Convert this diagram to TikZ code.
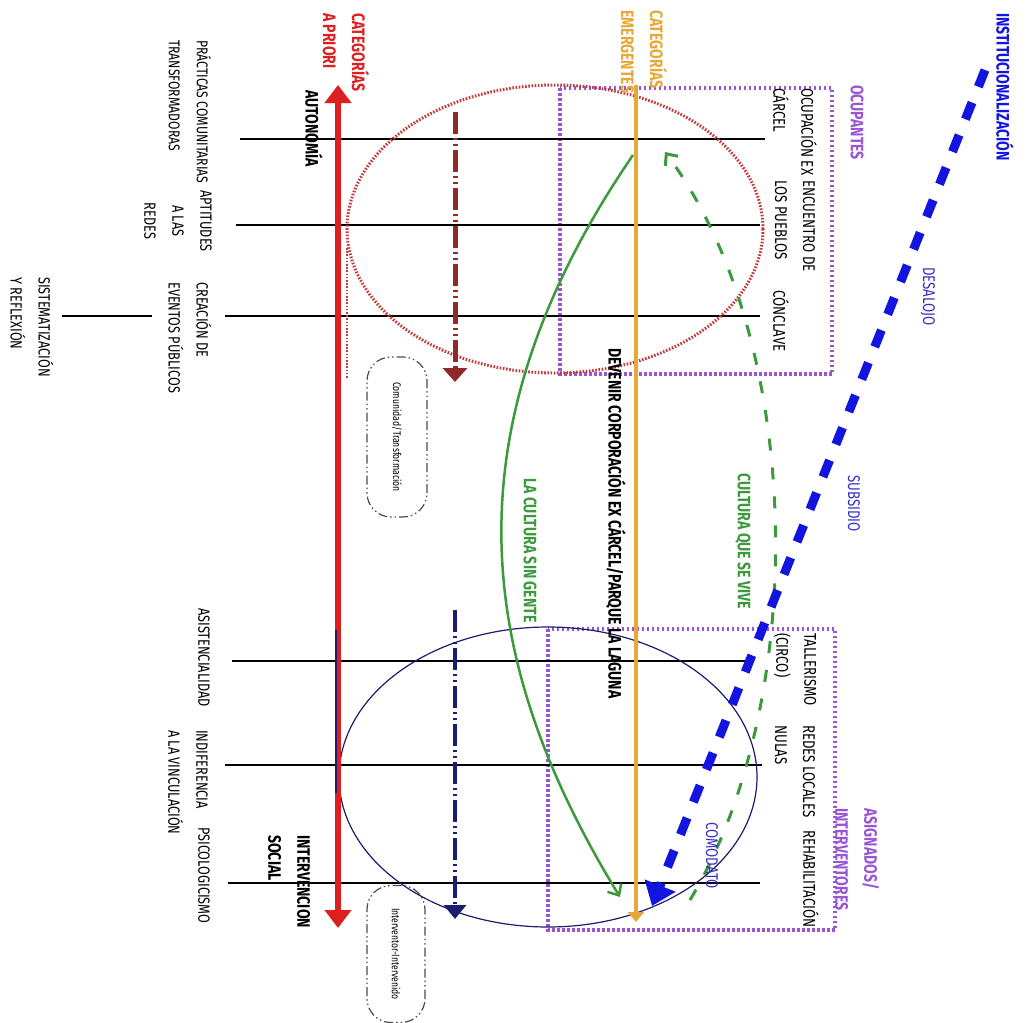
\documentclass[tikz,border=0pt]{standalone}
\usepackage{fontspec}
\setmainfont{Fira Sans}[FakeStretch=0.78]
\usetikzlibrary{arrows.meta}
\definecolor{cred}{HTML}{DD1F1F}
\definecolor{corange}{HTML}{E8A838}
\definecolor{cpurple}{HTML}{9A55D6}
\definecolor{cmaroon}{HTML}{8E2A2A}
\definecolor{cnavy}{HTML}{1C1C70}
\definecolor{cgreen}{HTML}{3C9A3C}
\definecolor{cblue}{HTML}{1414E0}
\definecolor{cdotred}{HTML}{C43A3A}
\definecolor{ctxtblue}{HTML}{3A30C0}
\begin{document}
\begin{tikzpicture}[x=1pt,y=-1pt,
  lbl/.style={rotate=-90, anchor=west, align=left, inner sep=0pt, font=\fontsize{17}{28}\selectfont},
  lbls/.style={lbl, font=\fontsize{16.3}{28}\selectfont},
  lblc/.style={lbls, align=center},
  blbl/.style={lbl, font=\bfseries\fontsize{18}{29}\selectfont},
  rowline/.style={black, line width=1.3pt},
  axisred/.style={cred, line width=6pt, {Triangle[width=26pt,length=18pt]}-{Triangle[width=26pt,length=18pt]}},
  axisorange/.style={corange, line width=4pt, -{Triangle[width=16pt,length=10pt]}},
  purplebox/.style={cpurple, line width=3.5pt, dash pattern=on 2.5pt off 2.5pt},
  reddots/.style={cdotred, line width=3pt, dash pattern=on 1.6pt off 1.6pt},
  navyring/.style={cnavy, line width=1.2pt},
  maroonarrow/.style={cmaroon, line width=5pt, dash pattern=on 22pt off 4pt on 2pt off 4pt on 2pt off 4pt, -{Triangle[width=24pt,length=14pt]}},
  navyarrow/.style={cnavy, line width=4pt, dash pattern=on 22pt off 4pt on 2pt off 4pt on 2pt off 4pt, -{Triangle[width=22pt,length=14pt]}},
  greensolid/.style={cgreen, line width=2.5pt, -{Straight Barb[width=16pt,length=9pt]}},
  greendash/.style={cgreen, line width=3pt, dash pattern=on 12pt off 17pt, -{Straight Barb[width=16pt,length=9pt]}},
  bluedash/.style={cblue, line width=9pt, dash pattern=on 18pt off 17pt, -{Triangle[width=32pt,length=22pt]}},
  smallbox/.style={draw=black!70, line width=1.2pt, rounded corners=24pt, rotate=-90,
     dash pattern=on 9pt off 3pt on 1.5pt off 3pt on 1.5pt off 3pt, inner sep=0pt,
     font=\fontsize{11}{13}\selectfont}
]
\path[fill=white] (0,0) rectangle (1029,1023);
\useasboundingbox (0,0) rectangle (1029,1023);

% purple boxes
\draw[purplebox] (560,88) rectangle (832,374);
\draw[purplebox] (548,629) rectangle (835,930);

% row lines
\coordinate (a1) at (240,139); \coordinate (b1) at (765,139);
\coordinate (a2) at (236,225); \coordinate (b2) at (760,225);
\coordinate (a3) at (225,316); \coordinate (b3) at (760,316);
\coordinate (a4) at (232,661); \coordinate (b4) at (750,661);
\coordinate (a5) at (225,765); \coordinate (b5) at (762,765);
\coordinate (a6) at (228,883); \coordinate (b6) at (760,883);
\coordinate (s1) at (62,316); \coordinate (s2) at (152,316);
\draw[rowline] (a1) -- (b1);
\draw[rowline] (a2) -- (b2);
\draw[rowline] (a3) -- (b3);
\draw[rowline] (a4) -- (b4);
\draw[rowline] (a5) -- (b5);
\draw[rowline] (a6) -- (b6);
\draw[rowline] (s1) -- (s2);

% ellipses
\draw[reddots] (555,229) ellipse [x radius=208, y radius=144];
\draw[navyring] (548,777) ellipse [x radius=209, y radius=150];

% main axes
\coordinate (rtop) at (338,85); \coordinate (rbot) at (338,928);
\draw[axisred] (rtop) -- (rbot);
\coordinate (ntop) at (336,630); \coordinate (nbot) at (336,793);
\draw[cnavy, line width=2pt] (ntop) -- (nbot);
\coordinate (dtop) at (347,248); \coordinate (dbot) at (347,378);
\draw[reddots, line width=2.5pt] (dtop) -- (dbot);
\coordinate (otop) at (636,85); \coordinate (obot) at (636,922);
\draw[axisorange] (otop) -- (obot);

% dash-dot arrows
\coordinate (mtop) at (455,112); \coordinate (mbot) at (455,382);
\draw[maroonarrow] (mtop) -- (mbot);
\coordinate (vtop) at (455,610); \coordinate (vbot) at (455,919);
\draw[navyarrow] (vtop) -- (vbot);

% green arrows
\coordinate (g1s) at (633,155); \coordinate (g1e) at (620,897);
\draw[greensolid] (g1s) .. controls (445,430) and (475,660) .. (g1e);
\coordinate (g2s) at (690,900); \coordinate (g2e) at (665,152);
\draw[greendash] (g2s) .. controls (810,700) and (805,340) .. (g2e);

% blue institutionalisation arrow
\coordinate (bs) at (985,70); \coordinate (be) at (652,906);
\draw[bluedash] (bs) -- (be);

% small rounded boxes
\node[smallbox, minimum width=160pt, minimum height=60pt] (cb1) at (397,437) {Comunidad/Transformación};
\node[smallbox, minimum width=137pt, minimum height=58pt] (cb2) at (396,954) {Interventor-Intervenido};

% header labels
\node[blbl, text=cred] (capr) at (346,13) {CATEGORÍAS\\A PRIORI};
\node[blbl, text=corange] (cemg) at (644,10) {CATEGORÍAS\\EMERGENTES};
\node[blbl] (auto) at (314,90) {AUTONOMÍA};
\node[blbl] (inter) at (289,835) {INTERVENCION\\SOCIAL};
\node[blbl, text=cblue] (inst) at (1005,13) {INSTITUCIONALIZACIÓN};
\node[blbl, text=cpurple] (ocup) at (857,85) {OCUPANTES};
\node[blbl, text=cpurple] (asig) at (857,808) {ASIGNADOS/\\INTERVENTORES};

% left labels
\node[lbl, font=\fontsize{15.6}{28}\selectfont] (pc) at (190,40) {PRÁCTICAS COMUNITARIAS\\TRANSFORMADORAS};
\node[lblc] (apt) at (178,190) {APTITUDES\\A LAS\\REDES};
\node[lbls] (cre) at (190,282) {CREACIÓN DE\\EVENTOS PÚBLICOS};
\node[lbls] (sis) at (32,277) {SISTEMATIZACIÓN\\Y REFLEXIÓN};
\node[lbls] (asis) at (204,608) {ASISTENCIALIDAD};
\node[lbls] (indi) at (188,730) {INDIFERENCIA\\A LA VINCULACIÓN};
\node[lbls] (psi) at (204,827) {PSICOLOGICISMO};

% right labels
\node[lbl] (oc) at (795,88) {OCUPACIÓN EX\\CÁRCEL};
\node[lbl] (enc) at (795,180) {ENCUENTRO DE\\LOS PUEBLOS};
\node[lbl] (con) at (781,290) {CÓNCLAVE};
\node[lbl] (tal) at (795,633) {TALLERISMO\\(CIRCO)};
\node[lbl] (red) at (795,725) {REDES LOCALES\\NULAS};
\node[lbl] (reh) at (811,830) {REHABILITACIÓN};

% arrow labels
\node[lbl, text=ctxtblue] (com) at (712,822) {COMODATO};
\node[lbl, text=ctxtblue] (des) at (928,267) {DESALOJO};
\node[lbl, text=ctxtblue] (sub) at (854,475) {SUBSIDIO};
\node[blbl, text=cgreen] (cqv) at (743,473) {CULTURA QUE SE VIVE};
\node[blbl, text=cgreen] (csg) at (530,478) {LA CULTURA SIN GENTE};
\node[blbl] (dev) at (616,348) {DEVENIR CORPORACIÓN EX CÁRCEL/PARQUE LA LAGUNA};
\end{tikzpicture}
\end{document}
